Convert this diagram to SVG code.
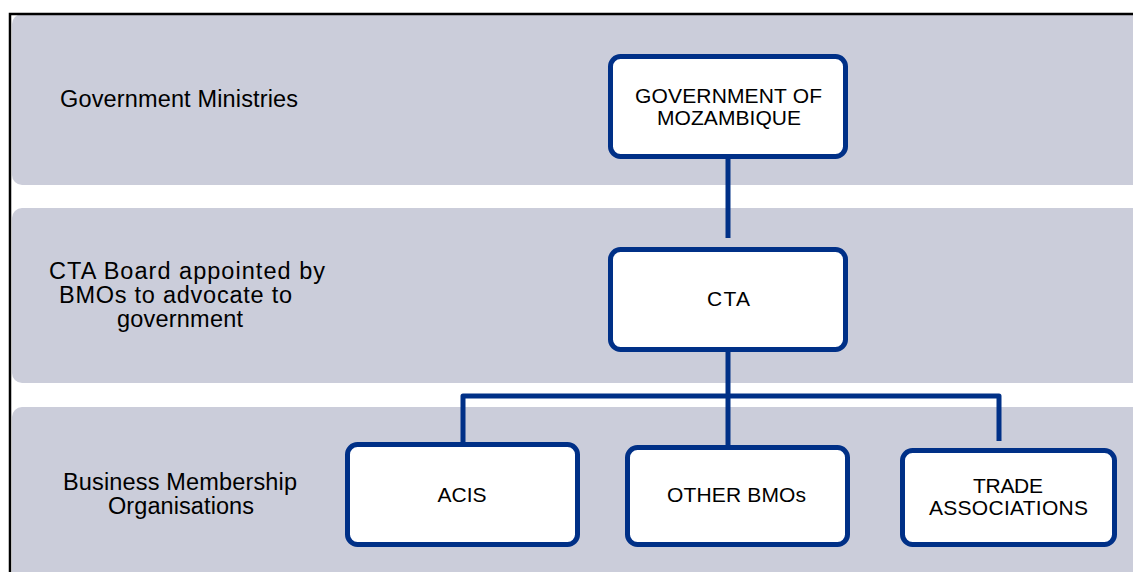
<svg xmlns="http://www.w3.org/2000/svg" width="1133" height="572" viewBox="0 0 1133 572">
<style>
.band{fill:#CBCDDA;}
.box{fill:#FFFFFF;stroke:#003087;stroke-width:5;}
.lbl{font-family:"Liberation Sans",Arial,sans-serif;font-size:23.5px;fill:#000;text-anchor:middle;}
.txt{font-family:"Liberation Sans",Arial,sans-serif;font-size:21px;fill:#000;text-anchor:middle;}
.conn{fill:none;stroke:#003087;stroke-width:5;stroke-linejoin:round;}
</style>
<rect x="0" y="0" width="1133" height="572" fill="#FFFFFF"/>
<g id="bands">
<rect class="band" x="12" y="14" width="1140" height="171" rx="10"/>
<rect class="band" x="12" y="208" width="1140" height="175" rx="10"/>
<rect class="band" x="12" y="407" width="1140" height="190" rx="10"/>
</g>
<path d="M10,583 V14 H1140" fill="none" stroke="#000" stroke-width="2.5"/>
<g id="labels">
<text class="lbl" x="179" y="107" textLength="238">Government Ministries</text>
<text class="lbl" x="187" y="279" textLength="276">CTA Board appointed by</text>
<text class="lbl" x="175.5" y="303" textLength="233">BMOs to advocate to</text>
<text class="lbl" x="180" y="327" textLength="126">government</text>
<text class="lbl" x="180" y="490" textLength="234">Business Membership</text>
<text class="lbl" x="181" y="514" textLength="146">Organisations</text>
</g>
<g id="connectors">
<path class="conn" d="M728,158 V238"/>
<path class="conn" d="M728,351 V446"/>
<path class="conn" d="M463,443 V396 H999 V441"/>
</g>
<g id="node-gov">
<rect class="box" x="610.5" y="56.5" width="235" height="100" rx="10"/>
<text class="txt" x="728.5" y="103" textLength="187">GOVERNMENT OF</text>
<text class="txt" x="729" y="124.5" textLength="144">MOZAMBIQUE</text>
</g>
<g id="node-cta">
<rect class="box" x="610.5" y="249.5" width="235" height="100" rx="10"/>
<text class="txt" x="728.5" y="306" textLength="43">CTA</text>
</g>
<g id="node-acis">
<rect class="box" x="347.5" y="444.5" width="230" height="100" rx="10"/>
<text class="txt" x="462" y="502" textLength="49">ACIS</text>
</g>
<g id="node-other">
<rect class="box" x="627.5" y="447.5" width="220" height="97" rx="10"/>
<text class="txt" x="736.5" y="502" textLength="139">OTHER BMOs</text>
</g>
<g id="node-trade">
<rect class="box" x="902.5" y="450.5" width="212" height="94" rx="10"/>
<text class="txt" x="1008" y="493" textLength="70">TRADE</text>
<text class="txt" x="1008.5" y="515" textLength="159">ASSOCIATIONS</text>
</g>
</svg>
